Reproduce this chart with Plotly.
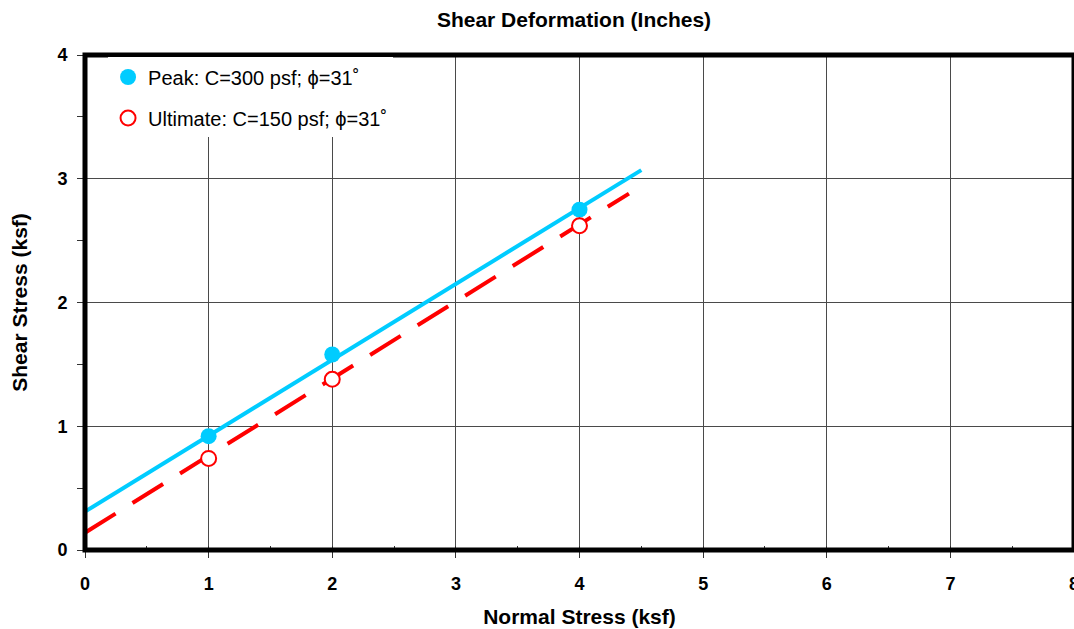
import plotly.graph_objects as go

# ---- data ----
normal_stress = [1, 2, 4]
peak_shear = [0.92, 1.58, 2.75]
ult_shear = [0.74, 1.38, 2.62]

peak_fit_x = [0, 4.5]
peak_fit_y = [0.31, 3.07]
ult_fit_x = [0, 4.4]
ult_fit_y = [0.14, 2.88]

peak_name = "Peak: C=300 psf; ϕ=31˚"
ult_name = "Ultimate: C=150 psf; ϕ=31˚"
x_ticks = [0, 1, 2, 3, 4, 5, 6, 7, 8]
y_ticks = [0, 1, 2, 3, 4]

CYAN = "#00CCFF"
RED = "#FF0000"
FONT = "Liberation Sans, Arial, sans-serif"

fig = go.Figure()

fig.add_trace(go.Scatter(x=peak_fit_x, y=peak_fit_y, mode="lines",
                         line=dict(color=CYAN, width=4), showlegend=False,
                         hoverinfo="skip"))
fig.add_trace(go.Scatter(x=ult_fit_x, y=ult_fit_y, mode="lines",
                         line=dict(color=RED, width=4, dash="36px,20px"),
                         showlegend=False, hoverinfo="skip"))
fig.add_trace(go.Scatter(x=normal_stress, y=peak_shear, mode="markers",
                         name=peak_name, legendgroup="a",
                         marker=dict(color=CYAN, size=16, symbol="circle",
                                     line=dict(width=0))))
fig.add_trace(go.Scatter(x=normal_stress, y=ult_shear, mode="markers",
                         name=ult_name, legendgroup="b",
                         marker=dict(color="white", size=15, symbol="circle",
                                     line=dict(color=RED, width=2))))

axis_common = dict(
    showgrid=True, gridcolor="#4a4a4a", gridwidth=1,
    zeroline=False, showline=False,
    ticks="outside", tickcolor="#333", tickwidth=1,
    ticklabeloverflow="allow",
    tickfont=dict(family=FONT, size=18, color="black", weight="bold"),
)

fig.update_xaxes(range=[0, 8], tickvals=x_ticks, ticklen=7,
                 ticklabelstandoff=10,
                 minor=dict(ticks="inside", dtick=0.5, ticklen=4,
                            tickcolor="#333", showgrid=False),
                 title=dict(text="Normal Stress (ksf)",
                            font=dict(family=FONT, size=21, color="black",
                                      weight="bold"), standoff=16),
                 **axis_common)
fig.update_yaxes(range=[0, 4], tickvals=y_ticks, ticklen=7,
                 ticklabelstandoff=6,
                 minor=dict(ticks="outside", dtick=0.5, ticklen=7,
                            tickcolor="#333", showgrid=False),
                 title=dict(text="Shear Stress (ksf)",
                            font=dict(family=FONT, size=21, color="black",
                                      weight="bold"), standoff=24),
                 **axis_common)

fig.update_layout(
    width=1074, height=629,
    margin=dict(l=85, r=0, t=55, b=79, autoexpand=False),
    plot_bgcolor="white", paper_bgcolor="white",
    title=dict(text="Shear Deformation (Inches)",
               font=dict(family=FONT, size=21, color="black", weight="bold"),
               x=574 / 1074, xanchor="center", xref="container",
               y=1 - 20 / 629, yanchor="middle", yref="container"),
    legend=dict(x=0.0233, y=0.995, xanchor="left", yanchor="top",
                bgcolor="white", borderwidth=0, traceorder="grouped",
                tracegroupgap=12, itemwidth=30,
                font=dict(family=FONT, size=20, color="black")),
    showlegend=True,
    shapes=[dict(type="rect", xref="paper", yref="paper", x0=0, x1=1,
                 y0=0, y1=1, line=dict(color="black", width=5),
                 layer="above")],
)

fig.write_html("out.html")
